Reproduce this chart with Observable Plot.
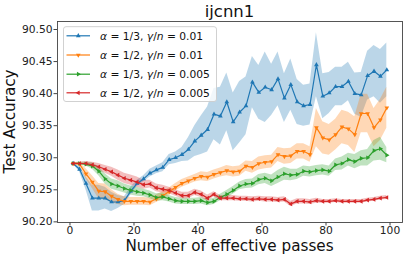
<!DOCTYPE html>
<html><head><meta charset="utf-8">
<script src="https://cdn.jsdelivr.net/npm/d3@7"></script>
<script src="https://cdn.jsdelivr.net/npm/@observablehq/plot@0.6"></script>
<style>body{margin:0;background:#fff} #chart{width:407px;height:258px}</style>
</head><body><div id="chart"></div>
<script>
const passes = [1,3,5,7,9,11,13,15,17,19,21,23,25,27,29,31,33,35,37,39,41,43,45,47,49,51,53,55,57,59,61,63,65,67,69,71,73,75,77,79,81,83,85,87,89,91,93,95,97,99];

const blueMean = [90.291,90.282,90.260,90.237,90.237,90.237,90.231,90.231,90.233,90.248,90.260,90.267,90.276,90.281,90.285,90.297,90.300,90.305,90.313,90.326,90.335,90.344,90.368,90.365,90.387,90.356,90.371,90.381,90.418,90.402,90.410,90.406,90.423,90.393,90.414,90.387,90.381,90.383,90.445,90.396,90.401,90.411,90.411,90.419,90.400,90.398,90.428,90.435,90.427,90.437];
const blueSd = [0.001,0.004,0.010,0.020,0.020,0.017,0.015,0.010,0.006,0.006,0.005,0.005,0.006,0.006,0.007,0.008,0.009,0.011,0.018,0.024,0.030,0.035,0.040,0.045,0.045,0.045,0.048,0.045,0.040,0.042,0.055,0.040,0.042,0.038,0.040,0.035,0.032,0.032,0.050,0.035,0.032,0.030,0.030,0.030,0.032,0.035,0.038,0.040,0.042,0.042];

const orangeMean = [90.291,90.290,90.275,90.262,90.248,90.247,90.240,90.235,90.232,90.232,90.232,90.232,90.231,90.236,90.241,90.247,90.254,90.260,90.264,90.268,90.271,90.270,90.274,90.277,90.280,90.278,90.279,90.287,90.285,90.291,90.293,90.294,90.305,90.302,90.303,90.310,90.310,90.305,90.347,90.331,90.328,90.336,90.348,90.345,90.336,90.369,90.369,90.347,90.359,90.378];
const orangeSd = [0.001,0.003,0.008,0.010,0.012,0.012,0.010,0.008,0.007,0.006,0.006,0.006,0.006,0.006,0.006,0.006,0.006,0.006,0.006,0.006,0.007,0.007,0.007,0.007,0.008,0.008,0.008,0.008,0.009,0.010,0.010,0.010,0.011,0.012,0.012,0.012,0.012,0.012,0.030,0.025,0.024,0.024,0.026,0.026,0.028,0.030,0.030,0.030,0.032,0.032];

const greenMean = [90.291,90.291,90.290,90.287,90.279,90.267,90.259,90.256,90.252,90.249,90.247,90.245,90.242,90.238,90.239,90.236,90.233,90.232,90.232,90.232,90.233,90.230,90.232,90.238,90.243,90.249,90.256,90.259,90.260,90.266,90.268,90.264,90.270,90.275,90.273,90.274,90.279,90.278,90.280,90.281,90.279,90.289,90.291,90.297,90.294,90.299,90.300,90.311,90.314,90.304];
const greenSd = [0.001,0.002,0.003,0.005,0.007,0.008,0.008,0.008,0.007,0.007,0.007,0.006,0.006,0.006,0.006,0.005,0.005,0.005,0.005,0.005,0.005,0.005,0.005,0.005,0.006,0.006,0.006,0.007,0.007,0.008,0.008,0.009,0.010,0.010,0.009,0.008,0.008,0.008,0.008,0.008,0.008,0.009,0.010,0.010,0.011,0.012,0.013,0.016,0.018,0.012];

const redMean = [90.291,90.291,90.291,90.289,90.286,90.282,90.278,90.273,90.268,90.265,90.262,90.258,90.259,90.253,90.251,90.249,90.245,90.241,90.241,90.246,90.243,90.237,90.243,90.237,90.237,90.237,90.236,90.236,90.235,90.236,90.235,90.235,90.234,90.235,90.228,90.232,90.232,90.231,90.233,90.232,90.232,90.233,90.232,90.232,90.232,90.232,90.234,90.235,90.237,90.238];
const redSd = [0.001,0.002,0.003,0.004,0.005,0.006,0.007,0.008,0.008,0.008,0.008,0.007,0.006,0.006,0.006,0.005,0.005,0.005,0.005,0.005,0.005,0.005,0.004,0.004,0.004,0.004,0.004,0.004,0.004,0.004,0.004,0.004,0.004,0.004,0.004,0.004,0.004,0.004,0.004,0.003,0.003,0.003,0.003,0.003,0.003,0.003,0.003,0.003,0.003,0.003];

const seriesNames = ["a13_01","a12_01","a13_005","a12_005"];
const seriesColors = ["#1f77b4","#ff7f0e","#2ca02c","#d62728"];
const seriesAlpha = ["1/3","1/2","1/3","1/2"];
const seriesGamma = ["0.01","0.01","0.005","0.005"];
const xTicks = [0,20,40,60,80,100];
const yTicks = [90.20,90.25,90.30,90.35,90.40,90.45,90.50];

function triangle(angleDeg) {
  const a0 = angleDeg * Math.PI / 180;
  return {
    draw(ctx, size) {
      const R = Math.sqrt(size / Math.PI);
      for (let k = 0; k < 3; k++) {
        const a = a0 + k * 2 * Math.PI / 3;
        const px = R * Math.sin(a), py = -R * Math.cos(a);
        if (k === 0) ctx.moveTo(px, py); else ctx.lineTo(px, py);
      }
      ctx.closePath();
    }
  };
}
const symbols = [triangle(0), triangle(180), triangle(90), triangle(270)];

const means = [blueMean, orangeMean, greenMean, redMean];
const sds = [blueSd, orangeSd, greenSd, redSd];
const tables = means.map((m, i) => passes.map((x, j) => ({x, y: m[j], lo: m[j] - sds[i][j], hi: m[j] + sds[i][j]})));

const bandMarks = tables.map((t, i) => Plot.areaY(t, {x: "x", y1: "lo", y2: "hi", fill: seriesColors[i], fillOpacity: 0.3, curve: "linear"}));
const lineMarks = tables.flatMap((t, i) => [
  Plot.line(t, {x: "x", y: "y", stroke: seriesColors[i], strokeWidth: 1.2}),
  Plot.dot(t, {x: "x", y: "y", fill: seriesColors[i], stroke: "none", r: 2.7, symbol: symbols[i]})
]);

const svg = Plot.plot({
  width: 407, height: 258,
  marginLeft: 57, marginRight: 5, marginTop: 21, marginBottom: 36,
  x: {domain: [-3.9, 103.9]},
  y: {domain: [90.199, 90.5125]},
  style: {fontFamily: "DejaVu Sans", fontSize: "10.7px", color: "#222", background: "white"},
  marks: [
    ...bandMarks,
    ...lineMarks,
    Plot.frame({stroke: "#444", strokeWidth: 0.9}),
    Plot.axisX({ticks: xTicks, tickSize: 3.5, tickPadding: 0.5, label: null, stroke: "#444"}),
    Plot.axisY({ticks: yTicks, tickSize: 3.5, tickPadding: 1.5, label: null, tickFormat: d => d.toFixed(2), stroke: "#444"})
  ]
});
document.getElementById("chart").appendChild(svg);

const s = d3.select(svg);
s.append("text").attr("x", 229.5).attr("y", 17).attr("text-anchor", "middle")
  .style("font-size", "16.5px").attr("fill", "#111").text("ijcnn1");
s.append("text").attr("x", 229.5).attr("y", 251.2).attr("text-anchor", "middle")
  .style("font-size", "15.2px").attr("fill", "#111").text("Number of effective passes");
s.append("text").attr("transform", "translate(15.3,121.5) rotate(-90)").attr("text-anchor", "middle")
  .style("font-size", "15.2px").attr("fill", "#111").text("Test Accuracy");

const lg = s.append("g");
lg.append("rect").attr("x", 63.5).attr("y", 26.7).attr("width", 153).attr("height", 74.8)
  .attr("rx", 2.5).attr("fill", "white").attr("fill-opacity", 0.8).attr("stroke", "#cccccc").attr("stroke-width", 0.9);
const rowY = [35.8, 55, 74.2, 92.8];
seriesNames.forEach((name, i) => {
  const y = rowY[i];
  lg.append("line").attr("x1", 66.5).attr("x2", 90).attr("y1", y).attr("y2", y)
    .attr("stroke", seriesColors[i]).attr("stroke-width", 1.2);
  lg.append("path").attr("transform", `translate(78.3,${y})`)
    .attr("d", d3.symbol(symbols[i], 2.7 * 2.7 * Math.PI)()).attr("fill", seriesColors[i]);
  const t = lg.append("text").attr("x", 100).attr("y", y + 3.9).attr("text-anchor", "start")
    .style("font-size", "10.7px").attr("fill", "#111");
  t.append("tspan").attr("font-style", "italic").text("α");
  t.append("tspan").text(` = ${seriesAlpha[i]}, `);
  t.append("tspan").attr("font-style", "italic").text("γ");
  t.append("tspan").text("/");
  t.append("tspan").attr("font-style", "italic").text("n");
  t.append("tspan").text(` = ${seriesGamma[i]}`);
});
</script></body></html>
